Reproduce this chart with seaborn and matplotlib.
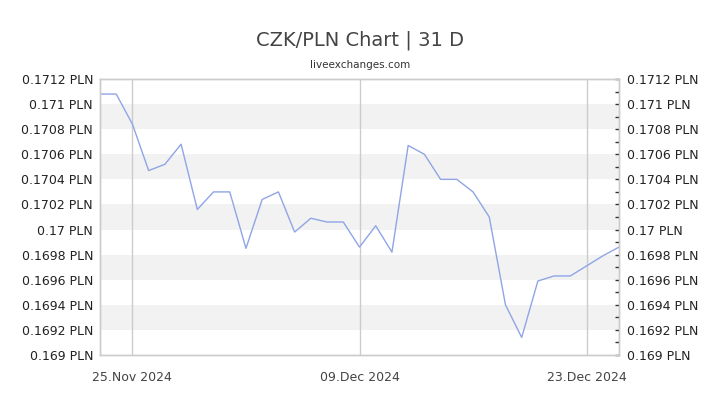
import matplotlib
matplotlib.use("Agg")
import matplotlib.pyplot as plt
import seaborn as sns
import pandas as pd
import numpy as np

dates = pd.date_range("2024-11-23", "2024-12-25", freq="D")
rates = [0.17108, 0.17108, 0.17084, 0.17047, 0.17052, 0.17068, 0.17016, 0.17030,
         0.17030, 0.16985, 0.17024, 0.17030, 0.16998, 0.17009, 0.17006, 0.17006,
         0.16986, 0.17003, 0.16982, 0.17067, 0.17060, 0.17040, 0.17040, 0.17030,
         0.17010, 0.16940, 0.16914, 0.16959, 0.16963, 0.16963, 0.16971, 0.16979,
         0.16986]
ytick_vals = [0.169, 0.1692, 0.1694, 0.1696, 0.1698, 0.17, 0.1702, 0.1704,
              0.1706, 0.1708, 0.171, 0.1712]
ytick_labels = ["0.169 PLN", "0.1692 PLN", "0.1694 PLN", "0.1696 PLN", "0.1698 PLN",
                "0.17 PLN", "0.1702 PLN", "0.1704 PLN", "0.1706 PLN", "0.1708 PLN",
                "0.171 PLN", "0.1712 PLN"]
xtick_dates = pd.to_datetime(["2024-11-25", "2024-12-09", "2024-12-23"])
xtick_labels = ["25.Nov 2024", "09.Dec 2024", "23.Dec 2024"]
band_ranges = [(0.1692, 0.1694), (0.1696, 0.1698), (0.1700, 0.1702),
               (0.1704, 0.1706), (0.1708, 0.1710)]

sns.set_style("white")
plt.rcParams["font.family"] = ["DejaVu Sans"]

df = pd.DataFrame({"date": dates, "rate": rates})

fig = plt.figure(figsize=(7.2, 4.05), dpi=100)
ax = fig.add_axes([100/720, 1-355/405, (619-100)/720, (355-79)/405])

for lo, hi in band_ranges:
    ax.axhspan(lo, hi, color="#f2f2f2", zorder=0, lw=0)
for d in xtick_dates:
    ax.axvline(d, color="#cccccc", lw=1, zorder=1)

sns.lineplot(data=df, x="date", y="rate", ax=ax, color="#8fa5e6", lw=1.0, zorder=3)

ax.set_xlim(dates[0], dates[-1])
ax.set_ylim(0.169, 0.1712)
ax.set_yticks(ytick_vals)
ax.set_yticklabels(ytick_labels)
ax.set_xticks(xtick_dates)
ax.set_xticklabels(xtick_labels)
ax.set_xlabel("")
ax.set_ylabel("")
ax.tick_params(axis="y", which="both", left=False, right=False, length=0,
               labelsize=9, labelcolor="#222222", pad=5)
ax.tick_params(axis="x", bottom=False, labelsize=9, labelcolor="#444444", pad=8)

ax2 = ax.twinx()
ax2.set_ylim(0.169, 0.1712)
ax2.set_yticks(ytick_vals)
ax2.set_yticklabels(ytick_labels)
ax2.set_yticks(np.arange(0.1691, 0.1712, 0.0002), minor=True)
ax2.tick_params(axis="y", which="both", direction="in", length=3, width=1,
                color="#333333", labelsize=9, labelcolor="#222222", pad=6)

for a in (ax, ax2):
    for s in a.spines.values():
        s.set_color("#cccccc")
        s.set_linewidth(1)

fig.text(0.5, 1-40/405, "CZK/PLN Chart | 31 D", ha="center", va="center",
         fontsize=14, color="#444444")
fig.text(0.5, 1-65/405, "liveexchanges.com", ha="center", va="center",
         fontsize=7.5, color="#333333")

fig.savefig("out.png", dpi=100)
